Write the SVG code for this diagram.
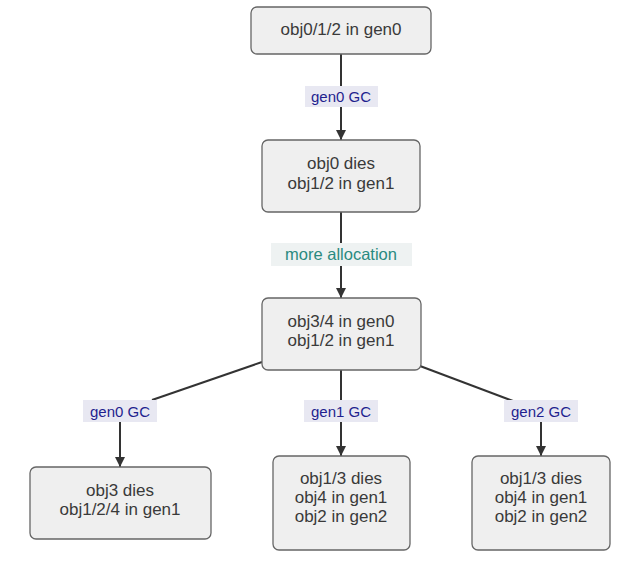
<svg xmlns="http://www.w3.org/2000/svg" width="644" height="562" viewBox="0 0 644 562">
<style>
.node rect{fill:#efefef;stroke:#666;stroke-width:1.3}
.node text{font-family:"Liberation Sans",Arial,sans-serif;font-size:17px;fill:#3a3a3a;text-anchor:middle;dominant-baseline:central}
.edge{stroke:#333;stroke-width:2;fill:none}
.lbg{fill:#e8e8f2}
.lbl{font-family:"Liberation Sans",Arial,sans-serif;font-size:15px;fill:#1f1f8f;text-anchor:middle;dominant-baseline:central}
.lbg2{fill:#eef2f2}
.lbl2{font-family:"Liberation Sans",Arial,sans-serif;font-size:16.5px;fill:#2a8a80;text-anchor:middle;dominant-baseline:central}
</style>
<defs>
<marker id="arr" viewBox="0 0 10 10" refX="10" refY="5" markerWidth="10" markerHeight="10" markerUnits="userSpaceOnUse" orient="auto">
<path d="M0,0 L10,5 L0,10 z" fill="#333"/>
</marker>
</defs>
<rect width="644" height="562" fill="#fff"/>
<g id="connectors">
<line class="edge" x1="341" y1="54" x2="341" y2="140" marker-end="url(#arr)"/>
<line class="edge" x1="341" y1="212" x2="341" y2="298" marker-end="url(#arr)"/>
<polyline class="edge" points="262,362 152,400"/>
<line class="edge" x1="120" y1="420" x2="120" y2="467" marker-end="url(#arr)"/>
<line class="edge" x1="341" y1="370" x2="341" y2="456" marker-end="url(#arr)"/>
<polyline class="edge" points="420,366 513,401"/>
<line class="edge" x1="541" y1="420" x2="541" y2="456" marker-end="url(#arr)"/>
<g id="label-top">
<rect class="lbg" x="305" y="86" width="73" height="21"/>
<text class="lbl" x="341" y="96.5">gen0 GC</text>
</g>
<g id="label-more">
<rect class="lbg2" x="271" y="243" width="141" height="23"/>
<text class="lbl2" x="341" y="254">more allocation</text>
</g>
<g id="label-left">
<rect class="lbg" x="83" y="400" width="74" height="22"/>
<text class="lbl" x="120" y="411">gen0 GC</text>
</g>
<g id="label-mid">
<rect class="lbg" x="304" y="400" width="74" height="22"/>
<text class="lbl" x="341" y="411">gen1 GC</text>
</g>
<g id="label-right">
<rect class="lbg" x="504" y="400" width="74" height="22"/>
<text class="lbl" x="541" y="411">gen2 GC</text>
</g>
</g>
<g id="n1" class="node">
<rect x="251" y="7" width="180" height="47" rx="6"/>
<text x="341" y="29">obj0/1/2 in gen0</text>
</g>
<g id="n2" class="node">
<rect x="262" y="140" width="158" height="72" rx="6"/>
<text x="341" y="163">obj0 dies</text>
<text x="341" y="183">obj1/2 in gen1</text>
</g>
<g id="n3" class="node">
<rect x="262" y="298" width="159" height="72" rx="6"/>
<text x="341" y="321">obj3/4 in gen0</text>
<text x="341" y="340">obj1/2 in gen1</text>
</g>
<g id="n4" class="node">
<rect x="30" y="467" width="181" height="72" rx="6"/>
<text x="120" y="490">obj3 dies</text>
<text x="120" y="509">obj1/2/4 in gen1</text>
</g>
<g id="n5" class="node">
<rect x="273" y="456" width="137" height="94" rx="6"/>
<text x="341" y="478">obj1/3 dies</text>
<text x="341" y="497">obj4 in gen1</text>
<text x="341" y="516">obj2 in gen2</text>
</g>
<g id="n6" class="node">
<rect x="472" y="456" width="138" height="94" rx="6"/>
<text x="541" y="478">obj1/3 dies</text>
<text x="541" y="497">obj4 in gen1</text>
<text x="541" y="516">obj2 in gen2</text>
</g>
</svg>
